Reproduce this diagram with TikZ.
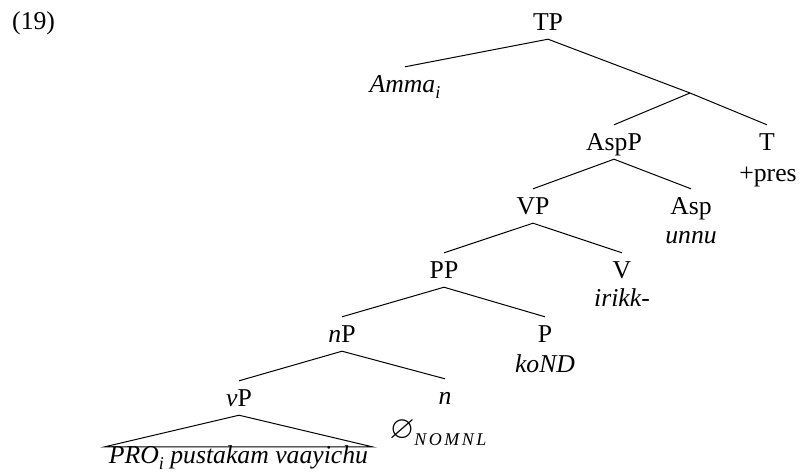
\documentclass[tikz,border=0pt]{standalone}
\usepackage{fontspec}
\usepackage{amssymb}
\usepackage{graphicx}
\setmainfont{Liberation Serif}
\newcommand{\subsc}[1]{\raisebox{-6pt}{\fontsize{18}{18}\selectfont\itshape #1}}
\begin{document}
\begin{tikzpicture}[x=1pt,y=-1pt,
  every node/.style={font=\fontsize{25.7}{30}\selectfont},
  cat/.style={anchor=base, inner sep=0pt, text height=25pt, text depth=9pt},
  word/.style={anchor=base, inner sep=0pt},
  roof/.style={anchor=base, inner xsep=4pt, inner ysep=0pt, text height=16.5pt, text depth=6pt},
  branch/.style={line width=1pt}]
\useasboundingbox (0,0) rectangle (800,474);
\node[word, anchor=base west] (ex) at (12,29) {(19)};
\node[cat] (TP) at (548,30) {TP};
\node[cat] (Amma) at (405,92) {\textit{Amma}\subsc{i}};
\coordinate (Tbar) at (690,93);
\node[cat] (AspP) at (614,150) {AspP};
\node[cat] (T) at (767,150) {T};
\node[word] (Tw) at (768,181) {+pres};
\node[cat] (VP) at (533,214) {VP};
\node[cat] (Asp) at (691,214) {Asp};
\node[word] (Aspw) at (691,243) {\textit{unnu}};
\node[cat] (PP) at (444,278) {PP};
\node[cat] (V) at (622,278) {V};
\node[word] (Vw) at (622,306) {\textit{irikk-}};
\node[cat] (nP) at (342,342) {\textit{n}P};
\node[cat] (P) at (545,342) {P};
\node[word] (Pw) at (545,372) {\textit{koND}};
\node[cat] (vP) at (239,406) {\textit{v}P};
\node[cat] (n) at (445,404) {\textit{n}};
\node[word] (nw) at (438,438) {\scalebox{1.25}{$\varnothing$}\raisebox{-7pt}{\fontsize{18}{18}\selectfont\itshape N\kern2.5pt O\kern2.5pt M\kern2.5pt N\kern2.5pt L}};
\node[roof] (PRO) at (238.5,463.5) {\textit{PRO}\subsc{i} \textit{pustakam vaayichu}};
\draw[branch] (TP.south) -- (Amma.north);
\draw[branch] (TP.south) -- (Tbar);
\draw[branch] (Tbar) -- (AspP.north);
\draw[branch] (Tbar) -- (T.north);
\draw[branch] (AspP.south) -- (VP.north);
\draw[branch] (AspP.south) -- (Asp.north);
\draw[branch] (VP.south) -- (PP.north);
\draw[branch] (VP.south) -- (V.north);
\draw[branch] (PP.south) -- (nP.north);
\draw[branch] (PP.south) -- (P.north);
\draw[branch] (nP.south) -- (vP.north);
\draw[branch] (nP.south) -- (n.north);
\draw[branch] (vP.south) -- (PRO.north west) -- (PRO.north east) -- cycle;
\end{tikzpicture}
\end{document}
